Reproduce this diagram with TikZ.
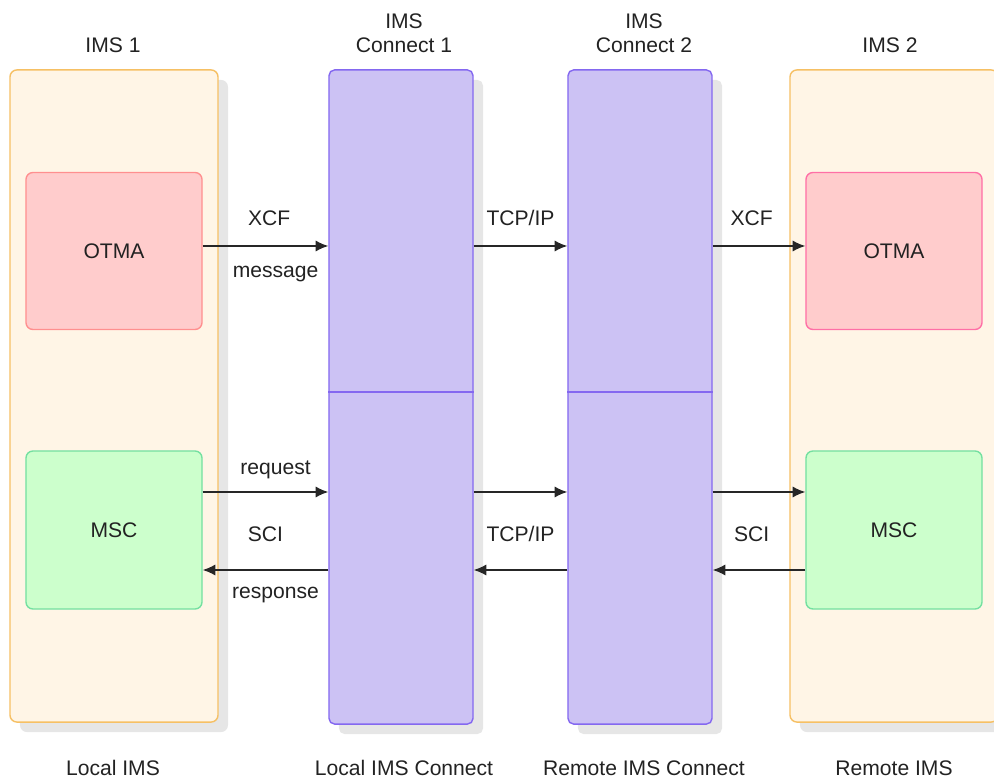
\documentclass[tikz,border=0pt]{standalone}
\usepackage{fontspec}
\setmainfont{Liberation Sans}
\usetikzlibrary{arrows.meta,shadows}
\definecolor{imsfill}{HTML}{FFF5E6}
\definecolor{imsdraw}{HTML}{F6C064}
\definecolor{confill}{HTML}{CCC2F4}
\definecolor{condraw}{HTML}{8468F0}
\definecolor{otmafill}{HTML}{FFCCCC}
\definecolor{otmadrawA}{HTML}{FF8F8F}
\definecolor{otmadrawB}{HTML}{FF6FA6}
\definecolor{mscfill}{HTML}{CCFFCC}
\definecolor{mscdraw}{HTML}{73E0A0}
\definecolor{shade}{HTML}{E6E6E6}
\definecolor{txt}{HTML}{222222}

\begin{document}
\begin{tikzpicture}[>={Latex[length=9pt,width=8pt]},
      x=0.025cm, y=-0.025cm,
      % styles for clarity
      every node/.style={font=\fontsize{15}{17}\selectfont, text=txt},
      shade/.style  ={drop shadow={shadow xshift=0.25cm, shadow yshift=-0.25cm,
                                   fill=shade, opacity=1}},
      imsbox/.style ={draw=imsdraw, fill=imsfill, line width=1pt, rounded corners=5pt,
                      shade, minimum width=5.2cm, minimum height=16.3cm},
      conbox/.style ={draw=condraw, fill=confill, line width=1pt, rounded corners=4pt,
                      shade, minimum width=3.6cm, minimum height=16.35cm},
      otma/.style   ={fill=otmafill, line width=1pt, rounded corners=5pt,
                      minimum width=4.4cm, minimum height=3.925cm},
      msc/.style    ={draw=mscdraw, fill=mscfill, line width=1pt, rounded corners=5pt,
                      minimum width=4.4cm, minimum height=3.95cm},
      lbl/.style    ={inner sep=0pt, anchor=base},
      link/.style   ={->, line width=1pt, draw=black!85}
    ]
    \useasboundingbox (0,0) rectangle (994,780);

    % the two IMS systems and the two IMS Connect stacks
    \node[imsbox] (ims1) at (114,396) {};
    \node[imsbox] (ims2) at (894,396) {};
    \foreach \x [count=\i from 1] in {401,640}{
      \node[conbox] (ic\i) at (\x,397) {};
      \coordinate (cut\i) at (\x,392);
      \draw[condraw, line width=1pt] (ic\i.west |- cut\i) -- (ic\i.east |- cut\i);
    }

    % inner boxes
    \node[otma, draw=otmadrawA] (otma1) at (114,251) {OTMA};
    \node[otma, draw=otmadrawB] (otma2) at (894,251) {OTMA};
    \node[msc] (msc1) at (114,530) {MSC};
    \node[msc] (msc2) at (894,530) {MSC};

    % titles above and below
    \node[lbl] (top1) at (113,53) {IMS 1};
    \node[inner sep=0pt, anchor=south, align=center] (top2) at (404,53) {IMS\\Connect 1};
    \node[inner sep=0pt, anchor=south, align=center] (top3) at (644,53) {IMS\\Connect 2};
    \node[lbl] (top4) at (890,53) {IMS 2};
    \node[lbl] (bot1) at (113,775) {Local IMS};
    \node[lbl] (bot2) at (404,775) {Local IMS Connect};
    \node[lbl] (bot3) at (644,775) {Remote IMS Connect};
    \node[lbl] (bot4) at (894,775) {Remote IMS};

    % rows of the arrows
    \coordinate (row1) at (0,246);
    \coordinate (row2) at (0,492);
    \coordinate (row3) at (0,570);

    % XCF message path
    \draw[link] (otma1.east |- row1) -- node[lbl, pos=.53, yshift=0.5cm] {XCF}
      node[lbl, pos=.58, yshift=-0.775cm] {message} (ic1.west |- row1);
    \draw[link] (ic1.east |- row1) -- node[lbl, yshift=0.5cm] {TCP/IP} (ic2.west |- row1);
    \draw[link] (ic2.east |- row1) -- node[lbl, pos=.42, yshift=0.5cm] {XCF} (otma2.west |- row1);

    % SCI request path
    \draw[link] (msc1.east |- row2) -- node[lbl, pos=.58, yshift=0.425cm] {request} (ic1.west |- row2);
    \draw[link] (ic1.east |- row2) -- (ic2.west |- row2);
    \draw[link] (ic2.east |- row2) -- (msc2.west |- row2);

    % SCI response path
    \draw[link] (ic1.west |- row3) -- node[lbl, pos=.42, yshift=-0.7cm] {response}
      node[lbl, pos=.5, yshift=0.7cm] {SCI} (msc1.east |- row3);
    \draw[link] (ic2.west |- row3) -- node[lbl, yshift=0.7cm] {TCP/IP} (ic1.east |- row3);
    \draw[link] (msc2.west |- row3) -- node[lbl, pos=.58, yshift=0.7cm] {SCI} (ic2.east |- row3);
  \end{tikzpicture}
\end{document}
